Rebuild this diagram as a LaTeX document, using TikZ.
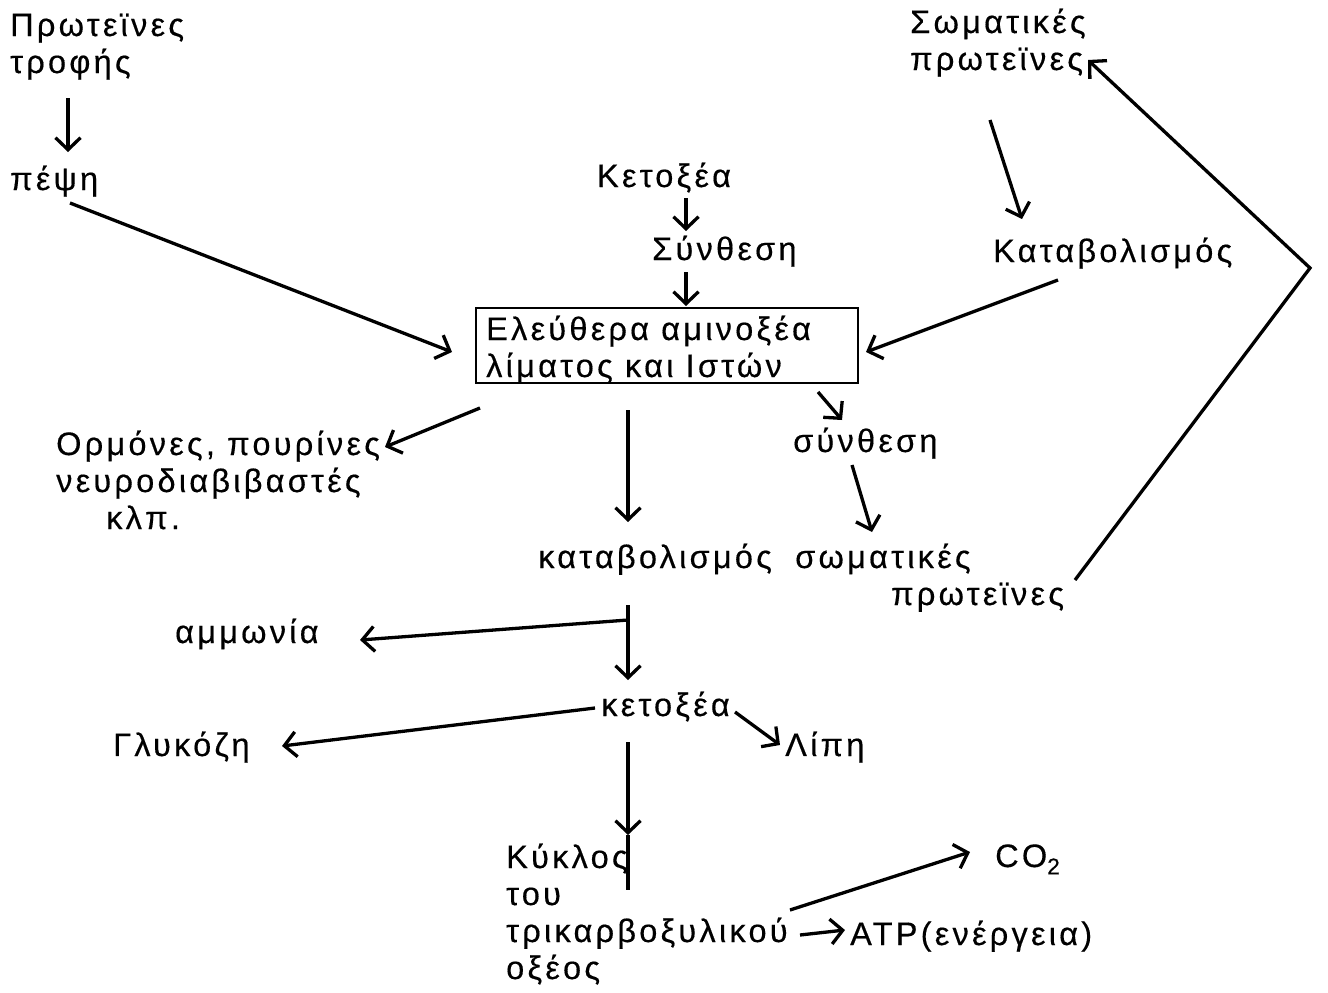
\documentclass[tikz,border=0pt]{standalone}
\usepackage{fontspec}
\setmainfont{Liberation Sans}[LetterSpace=10,FakeBold=0.4]
\usetikzlibrary{arrows.meta}
\begin{document}
\begin{tikzpicture}[x=1pt,y=-1pt,
  lbl/.style={anchor=base west,inner sep=0pt,align=left,font=\fontsize{32.5}{37}\selectfont},
  arr/.style={line width=3.3pt,-{Straight Barb[length=12pt,width=25pt]}},
  ln/.style={line width=3.3pt}]
\useasboundingbox (0,0) rectangle (1328,993);
% nodes (multi-line nodes are placed by the baseline of their last line)
\node[lbl] (prot) at (10,73) {Πρωτεϊνες\\τροφής};
\node[lbl] (pepsi) at (10,190) {πέψη};
\node[lbl,anchor=base] (keto) at (664,187) {Κετοξέα};
\node[lbl] (synth) at (652,260) {Σύνθεση};
\node[draw,line width=2pt,minimum width=382pt,minimum height=75pt,inner sep=0pt] (box) at (667,345.5) {};
\node[lbl] (boxt) at (486,377) {Ελεύθερα αμινοξέα\\λίματος και Ιστών};
\node[lbl] (soma) at (910,70) {Σωματικές\\πρωτεϊνες};
\node[lbl] (katab) at (993,262) {Καταβολισμός};
\node[lbl] (orm) at (56,529) {Ορμόνες, πουρίνες\\νευροδιαβιβαστές\\\hspace*{50pt}κλπ.};
\node[lbl] (katab2) at (538,568) {καταβολισμός};
\node[lbl] (soma2) at (795,605) {σωματικές\\\hspace*{96pt}πρωτεϊνες};
\node[lbl] (synth2) at (793,452) {σύνθεση};
\node[lbl] (amm) at (175,643) {αμμωνία};
\node[lbl] (keto2) at (601,716) {κετοξέα};
\node[lbl] (glyk) at (113,756) {Γλυκόζη};
\node[lbl] (lipi) at (785,756) {Λίπη};
\node[lbl] (kykl) at (506,979) {Κύκλος\\του\\τρικαρβοξυλικού\\οξέος};
\node[lbl] (atp) at (850,945) {ATP(ενέργεια)};
\node[lbl] (co2) at (995,867) {CO\textsubscript{2}};
% coordinates
\coordinate (a1s) at (68,98);   \coordinate (a1e) at (68,152);
\coordinate (a2s) at (70,203);  \coordinate (a2e) at (452,352);
\coordinate (a3s) at (686,198); \coordinate (a3e) at (686,231);
\coordinate (a4s) at (686,272); \coordinate (a4e) at (686,306);
\coordinate (a5s) at (990,120); \coordinate (a5e) at (1022,219);
\coordinate (a6s) at (1058,280);\coordinate (a6e) at (866,352);
\coordinate (c1) at (1075,580); \coordinate (c2) at (1310,268); \coordinate (c3) at (1088,60);
\coordinate (a7s) at (480,408); \coordinate (a7e) at (385,447);
\coordinate (a8s) at (628,410); \coordinate (a8e) at (628,522);
\coordinate (a9s) at (818,392); \coordinate (a9e) at (842,420);
\coordinate (a10s) at (852,465);\coordinate (a10e) at (872,532);
\coordinate (v1s) at (628,605); \coordinate (v1e) at (628,680);
\coordinate (j1) at (628,620);  \coordinate (amme) at (360,640);
\coordinate (g1s) at (595,708); \coordinate (g1e) at (282,746);
\coordinate (l1s) at (735,712); \coordinate (l1e) at (780,745);
\coordinate (v2s) at (628,742); \coordinate (v2m) at (628,835); \coordinate (v2e) at (628,890);
\coordinate (t1s) at (800,935); \coordinate (t1e) at (845,930);
\coordinate (t2s) at (790,910); \coordinate (t2e) at (970,852);
% connectors
\draw[arr] (a1s) -- (a1e);
\draw[arr] (a2s) -- (a2e);
\draw[arr] (a3s) -- (a3e);
\draw[arr] (a4s) -- (a4e);
\draw[arr] (a5s) -- (a5e);
\draw[arr] (a6s) -- (a6e);
\draw[arr] (c1) -- (c2) -- (c3);
\draw[arr] (a7s) -- (a7e);
\draw[arr] (a8s) -- (a8e);
\draw[arr] (a9s) -- (a9e);
\draw[arr] (a10s) -- (a10e);
\draw[arr] (v1s) -- (v1e);
\draw[arr] (j1) -- (amme);
\draw[arr] (g1s) -- (g1e);
\draw[arr] (l1s) -- (l1e);
\draw[arr] (v2s) -- (v2m);
\draw[ln] (v2m) -- (v2e);
\draw[arr] (t1s) -- (t1e);
\draw[arr] (t2s) -- (t2e);
\end{tikzpicture}
\end{document}
